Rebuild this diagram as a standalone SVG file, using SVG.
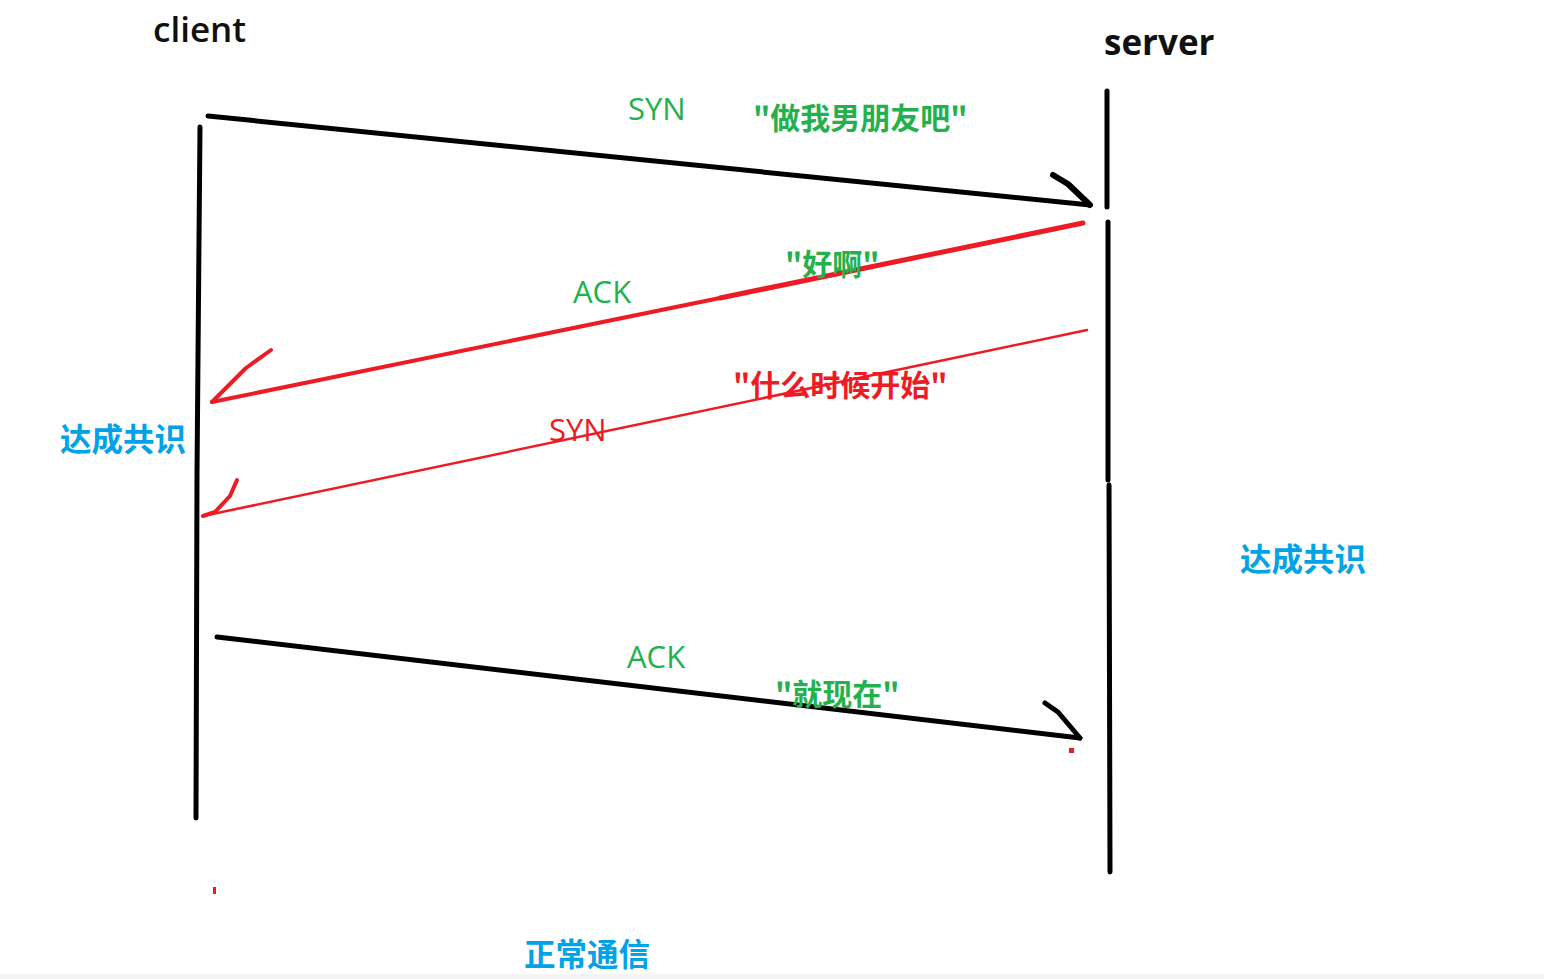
<svg xmlns="http://www.w3.org/2000/svg" width="1544" height="979" viewBox="0 0 1544 979">
<style>
.blk{stroke:#000;fill:none;stroke-linecap:round;stroke-linejoin:round}
.red{stroke:#ed1c24;fill:none;stroke-linecap:round;stroke-linejoin:round}
.lat{font-family:"Open Sans","Noto Sans",sans-serif}
.cjk{font-family:"Noto Sans CJK SC",sans-serif;font-weight:bold}
.g{fill:#22b14c}.r{fill:#ed1c24}.b{fill:#00a2e8}
</style>
<rect width="1544" height="979" fill="#fff"/>
<rect y="974" width="1544" height="5" fill="#f4f4f4"/>
<g id="client">
<text class="lat" x="153" y="42" font-size="35" fill="#111" font-weight="600">client</text>
<path class="blk" stroke-width="5" d="M200,127 L199,240 L197,475 L196,818"/>
</g>
<g id="server">
<text class="lat" x="1104" y="55" font-size="35" fill="#111" font-weight="bold">server</text>
<path class="blk" stroke-width="5" d="M1107,91 L1107,207 M1108,222 L1108,480 M1109,485 L1110,872"/>
</g>
<g id="connectors">
<path class="blk" stroke-width="5" d="M208,116 L1090,205"/>
<path class="blk" stroke-width="6" d="M1053,175 L1068,184 L1090,205"/>
<path class="red" stroke-width="5" d="M1083,223 L720,298"/>
<path class="red" stroke-width="4" d="M720,298 L212,402"/>
<path class="red" stroke-width="4" d="M271,350 L246,368 L212,402"/>
<path class="red" stroke-width="2.5" d="M1087,330 L203,516"/>
<path class="red" stroke-width="4" d="M237,480 L230,496 L215,512 L203,516"/>
<path class="blk" stroke-width="5" d="M217,637 L1080,738"/>
<path class="blk" stroke-width="5" d="M1045,703 L1058,712 L1080,738"/>
<rect x="1069" y="748" width="5" height="5" fill="#ed1c24"/>
<rect x="213" y="887" width="3" height="7" fill="#ed1c24"/>
</g>
<g id="labels">
<text class="lat g" x="628" y="120" font-size="31">SYN</text>
<text class="cjk g" x="753" y="129" font-size="30">"做我男朋友吧"</text>
<text class="cjk g" x="785" y="275" font-size="30">"好啊"</text>
<text class="lat g" x="573" y="303" font-size="31">ACK</text>
<text class="cjk r" x="733" y="396" font-size="30">"什么时候开始"</text>
<text class="lat r" x="549" y="441" font-size="31">SYN</text>
<text class="lat g" x="627" y="668" font-size="31">ACK</text>
<text class="cjk g" x="775" y="705" font-size="30">"就现在"</text>
</g>
<g id="notes">
<text class="cjk b" x="60" y="451" font-size="31.5">达成共识</text>
<text class="cjk b" x="1240" y="571" font-size="31.5">达成共识</text>
<text class="cjk b" x="524" y="966" font-size="31.5">正常通信</text>
</g>
</svg>
